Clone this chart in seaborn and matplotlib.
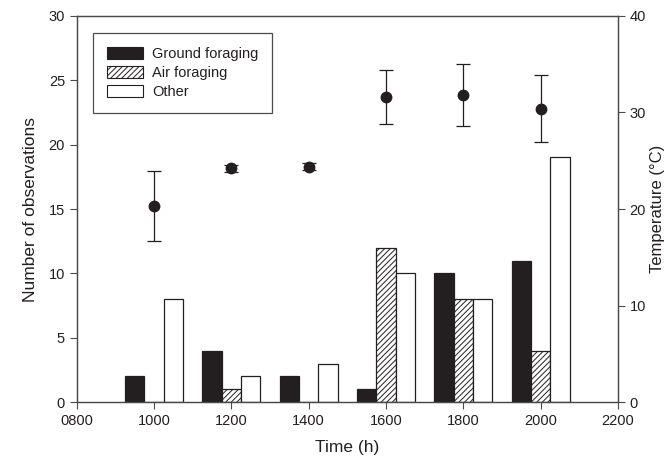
import matplotlib
matplotlib.use('Agg')
import matplotlib.pyplot as plt
import matplotlib.patches as mpatches
import pandas as pd
import seaborn as sns

# Observation counts per time of day
times = [1000, 1200, 1400, 1600, 1800, 2000]
ground = [2, 4, 2, 1, 10, 11]
air = [0, 1, 0, 12, 8, 4]
other = [8, 2, 3, 10, 8, 19]

# Mean temperature (°C) with error
temp_mean = [20.3, 24.2, 24.4, 31.6, 31.8, 30.4]
temp_err = [3.6, 0.4, 0.4, 2.8, 3.2, 3.5]

tick_times = [800, 1000, 1200, 1400, 1600, 1800, 2000, 2200]
behaviours = ['Ground foraging', 'Air foraging', 'Other']


def get_df() -> pd.DataFrame:
    rows = []
    for name, vals in zip(behaviours, [ground, air, other]):
        for t, v in zip(times, vals):
            rows.append({'time': t, 'count': v, 'type': name})
    return pd.DataFrame(rows)


sns.set_style('ticks')
plt.rcParams['font.family'] = ['Liberation Sans', 'DejaVu Sans']
plt.rcParams['hatch.linewidth'] = 0.7

INK = '#231f20'
AXIS = '#4a4a4a'

df = get_df()
fig = plt.figure(figsize=(6.68, 4.66), dpi=100)
ax = fig.add_axes([0.115, 0.137, 0.81, 0.829])

fills = {'Ground foraging': INK, 'Air foraging': 'white', 'Other': 'white'}
sns.barplot(data=df, x='time', y='count', hue='type', hue_order=behaviours,
            native_scale=True, width=0.75, palette=fills, edgecolor=INK,
            linewidth=0.9, legend=False, ax=ax, errorbar=None, saturation=1)
for cont, name in zip(ax.containers, behaviours):
    if name == 'Air foraging':
        for p in cont:
            p.set_hatch('//////')

ax.set_xlim(800, 2200)
ax.set_ylim(0, 30)
ax.set_xticks(tick_times)
ax.set_xticklabels([f'{t:04d}' for t in tick_times])
ax.set_yticks(range(0, 31, 5))
ax.set_xlabel('Time (h)', fontsize=12.5, labelpad=9, color=INK)
ax.set_ylabel('Number of observations', fontsize=12.5, labelpad=8, color=INK)
ax.tick_params(labelsize=10.5, length=5, width=0.8, color=AXIS, labelcolor=INK)

ax2 = ax.twinx()
ax2.errorbar(times, temp_mean, yerr=temp_err, fmt='o', color=INK,
             markersize=7.5, ecolor=INK, elinewidth=0.9, capsize=4.7, capthick=0.9)
ax2.set_ylim(0, 40)
ax2.set_yticks(range(0, 41, 10))
ax2.set_ylabel('Temperature (°C)', fontsize=12, labelpad=3, color=INK)
ax2.tick_params(labelsize=10.5, length=5, width=0.8, color=AXIS, labelcolor=INK)

for a in (ax, ax2):
    for s in a.spines.values():
        s.set_visible(True)
        s.set_linewidth(0.9)
        s.set_color(AXIS)

handles = [mpatches.Patch(facecolor=fills[b], edgecolor=INK, linewidth=0.8,
                          hatch='//////' if b == 'Air foraging' else None, label=b)
           for b in behaviours]
leg = ax.legend(handles=handles, loc='upper left', bbox_to_anchor=(0.03, 0.956),
                borderaxespad=0, fontsize=10.5, frameon=True, fancybox=False,
                edgecolor=INK, handlelength=2.5, handleheight=0.9, labelspacing=0.35,
                borderpad=0.95, handletextpad=0.6)
leg.get_frame().set_linewidth(0.9)
for t in leg.get_texts():
    t.set_color(INK)

fig.savefig('out.png', dpi=100)
